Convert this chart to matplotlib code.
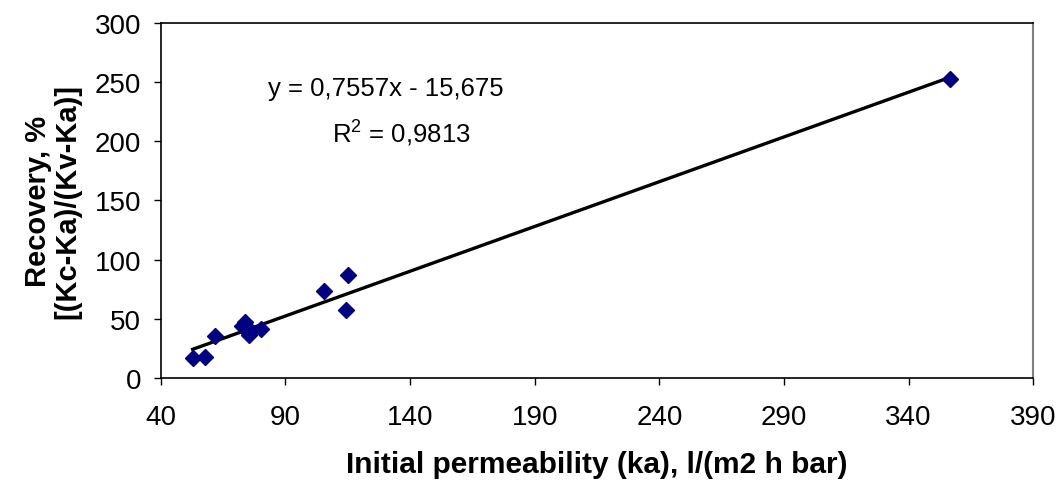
import numpy as np
import matplotlib.pyplot as plt

plt.rcParams['font.family'] = ['Liberation Sans', 'DejaVu Sans']

# data
ka = [52.8, 57.7, 61.6, 72.5, 73.6, 75.2, 76.4, 80.3, 105.5, 115.0, 114.4, 356.7]
recovery = [16.6, 18.0, 35.2, 44.1, 47.5, 36.3, 39.7, 41.4, 73.7, 87.2, 57.1, 252.3]

slope = 0.7557
intercept = -15.675
r2 = 0.9813

xticks = [40, 90, 140, 190, 240, 290, 340, 390]
yticks = [0, 50, 100, 150, 200, 250, 300]

fig = plt.figure(figsize=(10.59, 4.81), dpi=100)
ax = fig.add_axes([0.1518, 0.212, 0.8239, 0.739])

xfit = np.array([min(ka), max(ka)])
ax.plot(xfit, slope * xfit + intercept, color='black', lw=2.4, zorder=2)
ax.plot(ka, recovery, linestyle='none', marker='D', ms=8, color='#000080', zorder=3)

ax.set_xlim(40, 390)
ax.set_ylim(0, 300)
ax.set_xticks(xticks)
ax.set_yticks(yticks)
ax.tick_params(labelsize=20, length=5, width=1, direction='out')
ax.tick_params(axis='x', pad=14)
ax.tick_params(axis='y', pad=9)

for s in ['left', 'bottom', 'top']:
    ax.spines[s].set_color('black')
    ax.spines[s].set_linewidth(1.2)
ax.spines['right'].set_color('#808080')
ax.spines['right'].set_linewidth(1.5)

ax.set_xlabel('Initial permeability (ka), l/(m2 h bar)', fontsize=21.5, fontweight='bold', labelpad=14)
ax.set_ylabel('Recovery, %\n[(Kc-Ka)/(Kv-Ka)]', fontsize=21, fontweight='bold', labelpad=10,
              linespacing=1.05)

ax.text(130.2, 245, 'y = 0,7557x - 15,675', fontsize=18.5, ha='center', va='center')
ax.text(136.6, 207, '$\\mathregular{R^2}$ = 0,9813', fontsize=18.5, ha='center', va='center')

plt.savefig('out.png', dpi=100)
